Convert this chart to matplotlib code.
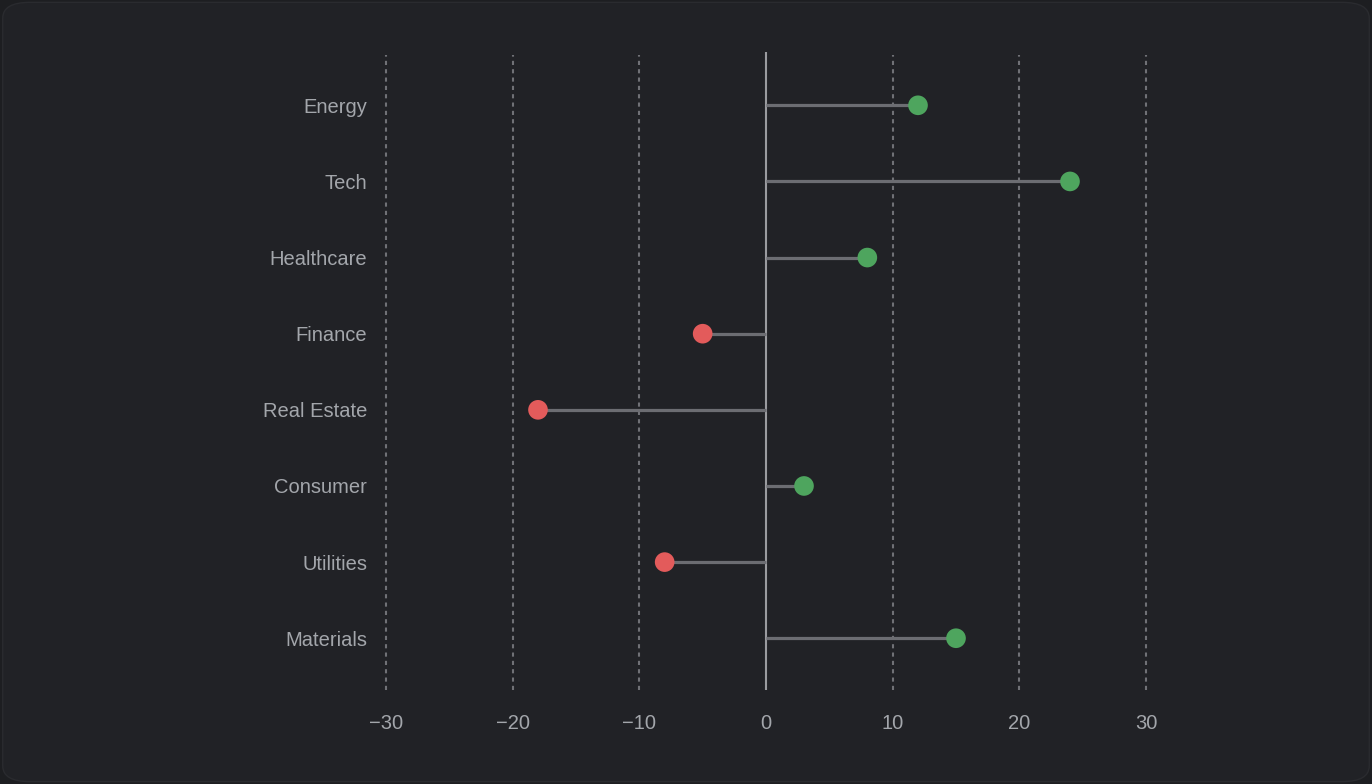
import matplotlib.pyplot as plt
from matplotlib.patches import FancyBboxPatch

sectors = ["Energy", "Tech", "Healthcare", "Finance", "Real Estate",
           "Consumer", "Utilities", "Materials"]
changes = [12, 24, 8, -5, -18, 3, -8, 15]
x_ticks = [-30, -20, -10, 0, 10, 20, 30]

bg = "#212226"
text_col = "#a3a6ab"
green = "#4ea55e"
red = "#e35b5b"

plt.rcParams['font.family'] = ['Liberation Sans', 'DejaVu Sans']

fig = plt.figure(figsize=(13.72, 7.84), dpi=100)
fig.patch.set_facecolor("#1d1e21")
fig.patches.append(FancyBboxPatch((0.002, 0.003), 0.996, 0.994,
                                  boxstyle="round,pad=0,rounding_size=0.02",
                                  transform=fig.transFigure, facecolor=bg,
                                  edgecolor="#2a2b2f", linewidth=1, zorder=-5))

ax = fig.add_axes([386 / 1372, 1 - 690 / 784, 760 / 1372, 638 / 784])
ax.set_zorder(2)
ax.patch.set_alpha(0)

ypos = list(range(len(sectors)))
for v in x_ticks:
    if v != 0:
        ax.axvline(v, color="#707176", linestyle=(0, (2, 2)), linewidth=1.5, zorder=1,
                   ymin=0, ymax=0.995, clip_on=False)
ax.axvline(0, color="#9a9b9f", linewidth=1.5, zorder=2)

colors = [green if c >= 0 else red for c in changes]
ax.hlines(ypos, 0, changes, color="#6c6d72", linewidth=2.3, zorder=3)
ax.scatter(changes, ypos, s=200, c=colors, zorder=4, linewidths=0)

ax.set_xlim(-30, 30)
ax.set_ylim(7.68, -0.7)
ax.set_yticks(ypos)
ax.set_yticklabels(sectors)
ax.set_xticks(x_ticks)
ax.set_xticklabels(["\u2212" + str(abs(v)) if v < 0 else str(v) for v in x_ticks])
ax.tick_params(axis="both", length=0, colors=text_col, labelsize=14.5)
ax.tick_params(axis="y", pad=13.5)
ax.tick_params(axis="x", pad=17)
for s in ax.spines.values():
    s.set_visible(False)

fig.savefig("out.png", dpi=100, facecolor=fig.get_facecolor())
